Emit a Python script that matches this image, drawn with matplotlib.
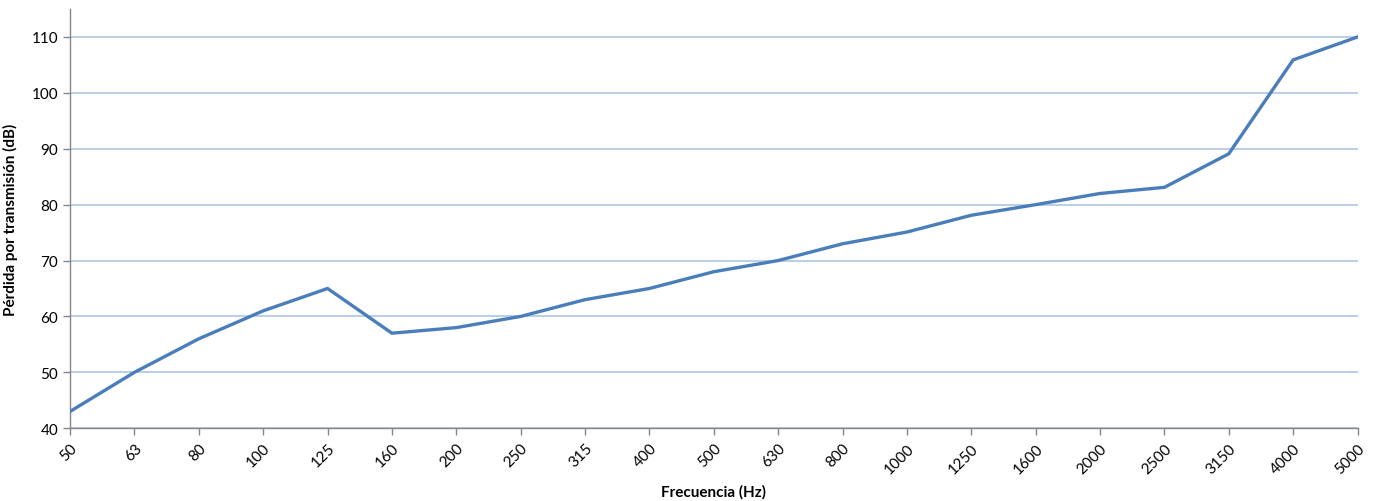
import matplotlib
matplotlib.use("Agg")
import matplotlib.pyplot as plt

frequencies = ["50", "63", "80", "100", "125", "160", "200", "250", "315", "400", "500",
               "630", "800", "1000", "1250", "1600", "2000", "2500", "3150", "4000", "5000"]
loss_db = [43, 50, 56, 61, 65, 57, 58, 60, 63, 65, 68, 70, 73, 75.1, 78.1, 80, 82, 83.1, 89.1, 105.9, 110]
y_ticks = [40, 50, 60, 70, 80, 90, 100, 110]

plt.rcParams['font.family'] = ['Lato', 'DejaVu Sans']

fig = plt.figure(figsize=(13.74, 5.02), dpi=100)
ax = fig.add_axes([0.051, 0.145, 0.937, 0.835])

x = list(range(len(frequencies)))
ax.plot(x, loss_db, color="#4A7EBB", linewidth=2.4, solid_joinstyle="miter", zorder=3)

ax.set_xlim(0, len(frequencies) - 1)
ax.set_ylim(40, 115)
ax.set_yticks(y_ticks)
ax.set_xticks(x)
ax.set_xticklabels(frequencies, rotation=45, ha="right", va="top", rotation_mode="anchor")
ax.grid(axis="y", color="#AFC6E6", linewidth=1.2)
ax.set_axisbelow(True)

for s in ["top", "right"]:
    ax.spines[s].set_visible(False)
for s in ["left", "bottom"]:
    ax.spines[s].set_color("#868686")
    ax.spines[s].set_linewidth(1.0)

ax.tick_params(axis="both", colors="#868686", labelcolor="black", labelsize=11, length=5, width=1)
ax.tick_params(axis="x", pad=4)

ax.set_xlabel("Frecuencia (Hz)", fontsize=11, fontweight="bold", labelpad=6)
ax.set_ylabel("Pérdida por transmisión (dB)", fontsize=11, fontweight="bold", labelpad=10)

fig.savefig("out.png", dpi=100)
